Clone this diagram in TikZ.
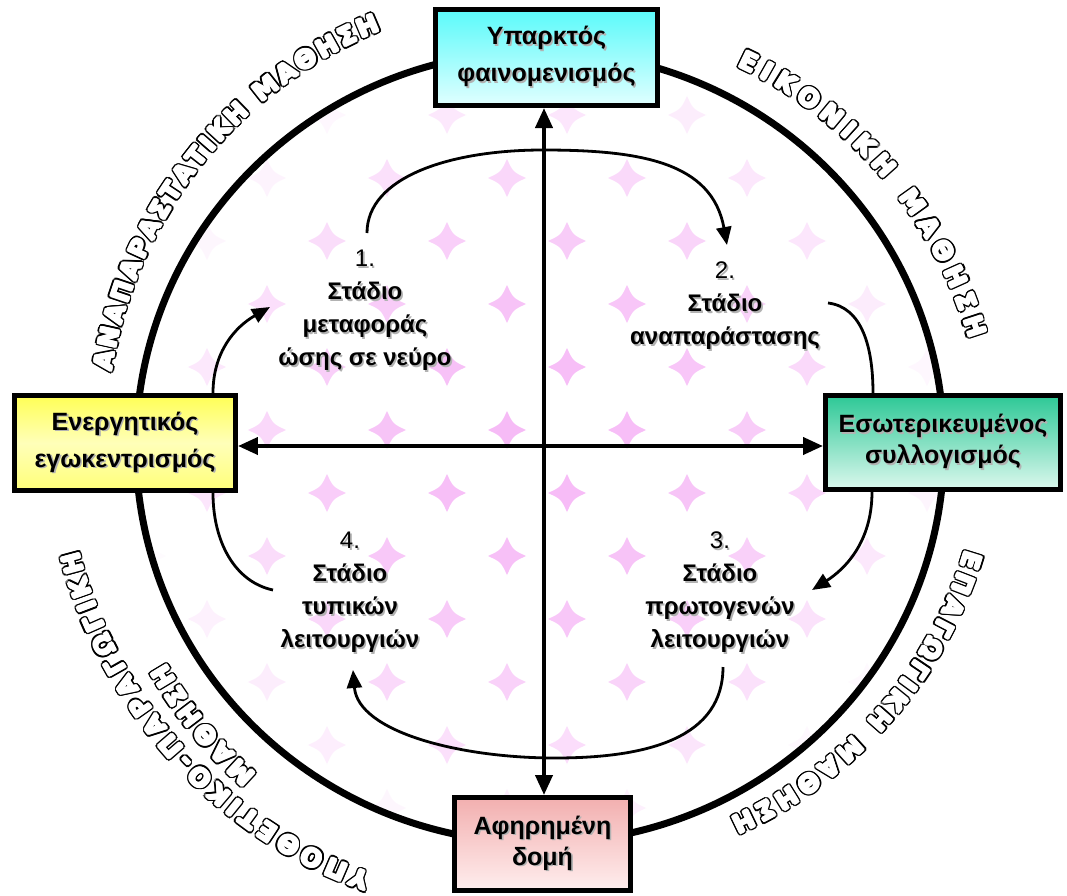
\documentclass[tikz,border=0pt]{standalone}
\usepackage{fontspec}
\setmainfont{Liberation Sans}
\newfontfamily\dejabold{DejaVu Sans}[BoldFont={DejaVu Sans Bold}]
\usetikzlibrary{arrows.meta,decorations.text}
\newcommand\shd[1]{\makebox[0pt][l]{\hspace{1.6pt}\raisebox{-1.6pt}{\textcolor{black!30}{#1}}}#1}
\newcommand\arcfont{\dejabold\fontsize{25}{25}\selectfont\bfseries}
\definecolor{cyanT}{RGB}{90,250,250}
\definecolor{cyanB}{RGB}{225,255,255}
\definecolor{yelT}{RGB}{255,255,85}
\definecolor{yelM}{RGB}{255,255,185}
\definecolor{yelB}{RGB}{255,255,120}
\definecolor{grnT}{RGB}{45,200,150}
\definecolor{grnB}{RGB}{220,248,238}
\definecolor{pnkT}{RGB}{242,175,175}
\definecolor{pnkB}{RGB}{255,238,238}
\definecolor{starpink}{RGB}{246,180,246}
\tikzset{
  box/.style={draw=black, line width=5pt, align=center, inner sep=0pt,
    font=\fontsize{25}{37}\selectfont\bfseries},
  stage/.style={align=center, inner sep=0pt, font=\fontsize{24}{33}\selectfont\bfseries},
  axis/.style={line width=4pt, >={Triangle[length=20pt,width=17pt]}, <->},
  cyc/.style={line width=2.8pt},
  cyctip/.style={cyc, >={Triangle[length=18pt,width=15pt]}, ->},
  ring/.style={line width=7pt},
  arcdeco/.style={decorate, decoration={text along path, text={|\arcfont|#1}, text align={fit to path}}},
}
% #1 start angle, #2 end angle, #3 start radius, #4 end radius, #5 text
\newcommand\arcpath[4]{plot[domain=#1:#2, samples=40] ({(#3+((#4)-(#3))*(\x-(#1))/((#2)-(#1)))*cos(\x)}, {(#3+((#4)-(#3))*(\x-(#1))/((#2)-(#1)))*sin(\x)})}
\newcommand\arctext[5]{%
  \foreach \dx/\dy in {2.6/0,-2.6/0,0/2.6,0/-2.6,1.84/1.84,1.84/-1.84,-1.84/1.84,-1.84/-1.84,
      2.4/1,2.4/-1,-2.4/1,-2.4/-1,1/2.4,1/-2.4,-1/2.4,-1/-2.4}{%
    \path[arcdeco={#5}, decoration={text color=black}, shift={(\dx,\dy)}] \arcpath{#1}{#2}{#3}{#4};
  }%
  \foreach \dx/\dy in {1.1/0,-1.1/0,0/1.1,0/-1.1,0.78/0.78,0.78/-0.78,-0.78/0.78,-0.78/-0.78,0/0}{%
    \path[arcdeco={#5}, decoration={text color=white}, shift={(\dx,\dy)}] \arcpath{#1}{#2}{#3}{#4};
  }%
}
\begin{document}
\begin{tikzpicture}[x=1pt,y=1pt]
\useasboundingbox (-540,-448) rectangle (527,447);
\fill[white] (-540,-448) rectangle (527,447);

% background pattern
\begin{scope}
  \clip (0,0) ellipse [x radius=400, y radius=392];
  \foreach \k in {-7,...,7}{
    \foreach \i in {-3,...,5}{
      \pgfmathsetmacro\xx{-213+120*\i+60*mod(\k+10,2)}
      \pgfmathsetmacro\yy{-46+63*\k}
      \pgfmathsetmacro\op{max(0,0.9*(1-(veclen(\xx,\yy)/420)^2))}
      \fill[starpink, opacity=\op, shift={(\xx,\yy)}]
        (0,19) .. controls (6,6) .. (19,0) .. controls (6,-6) .. (0,-19)
        .. controls (-6,-6) .. (-19,0) .. controls (-6,6) .. (0,19) -- cycle;
    }
  }
\end{scope}

% ring
\draw[ring] (0,0) ellipse [x radius=404, y radius=396];

% boxes
\node[box, top color=cyanT, bottom color=cyanB, minimum width=222pt, minimum height=96pt]
  (top) at (6.5,389.5) {\shd{Υπαρκτός}\\\shd{φαινομενισμός}};
\node[box, top color=yelT, bottom color=yelB, middle color=yelM, minimum width=221pt, minimum height=95pt]
  (lt) at (-415,4) {\shd{Ενεργητικός}\\\shd{εγωκεντρισμός}};
\node[box, top color=grnT, bottom color=grnB, minimum width=235pt, minimum height=94pt,
  font=\fontsize{25}{31}\selectfont\bfseries]
  (rt) at (403,4.5) {\shd{Εσωτερικευμένος}\\\shd{συλλογισμός}};
\node[box, top color=pnkT, bottom color=pnkB, minimum width=176pt, minimum height=93pt,
  font=\fontsize{25}{31}\selectfont\bfseries]
  (bot) at (2.5,-397) {\shd{Αφηρημένη}\\\shd{δομή}};

% cross
\coordinate (O) at (4,1);
\draw[axis] (top.south -| O) -- (bot.north -| O);
\draw[axis] (lt.east |- O) -- (rt.west |- O);

% stage labels
\node[stage] (s1) at (-175,135.5) {\textmd{\shd{1.}}\\\shd{Στάδιο}\\\shd{μεταφοράς}\\\shd{ώσης σε νεύρο}};
\node[stage] (s2) at (185,140.5) {\textmd{\shd{2.}}\\\shd{Στάδιο}\\\shd{αναπαράστασης}};
\node[stage] (s3) at (180,-146) {\textmd{\shd{3.}}\\\shd{Στάδιο}\\\shd{πρωτογενών}\\\shd{λειτουργιών}};
\node[stage] (s4) at (-190,-146) {\textmd{\shd{4.}}\\\shd{Στάδιο}\\\shd{τυπικών}\\\shd{λειτουργιών}};

% cycle connectors
\coordinate (a1) at (-173,214);
\coordinate (a2) at (187,202);
\draw[cyctip] (a1) .. controls (-173,270) and (-90,297) .. (3,297)
  .. controls (100,297) and (172,285) .. (a2);
\coordinate (b1) at (288,144);
\draw[cyc] (b1) .. controls (322,140) and (333,100) .. ([xshift=-70pt]rt.north);
\coordinate (c2) at (272,-143);
\draw[cyctip] ([xshift=-71pt]rt.south) .. controls (332,-95) and (305,-122) .. (c2);
\coordinate (d1) at (183,-220);
\coordinate (d2) at (-187,-223);
\draw[cyctip] (d1) .. controls (183,-290) and (110,-311) .. (15,-311)
  .. controls (-80,-311) and (-182,-285) .. (d2);
\coordinate (e1) at (-267,-143);
\draw[cyc] (e1) .. controls (-305,-135) and (-327,-95) .. ([xshift=88pt]lt.south);
\coordinate (f2) at (-270,140);
\draw[cyctip] ([xshift=88pt]lt.north) .. controls (-327,95) and (-305,120) .. (f2);

% outlined arc texts
\arctext{170}{110.9}{435}{446}{ΑΝΑΠΑΡΑΣΤΑΤΙΚΗ ΜΑΘΗΣΗ}
\arctext{62.6}{14.1}{429}{443}{ΕΙΚΟΝΙΚΗ ΜΑΘΗΣΗ}
\arctext{-13.6}{-62.8}{438}{417}{ΕΠΑΓΩΓΙΚΗ ΜΑΘΗΣΗ}
\arctext{-111.6}{-167.3}{459}{473}{ΥΠΟΘΕΤΙΚΟ-ΠΑΡΑΓΩΓΙΚΗ}
\arctext{-130.9}{-150}{433}{432}{ΜΑΘΗΣΗ}
\end{tikzpicture}
\end{document}
